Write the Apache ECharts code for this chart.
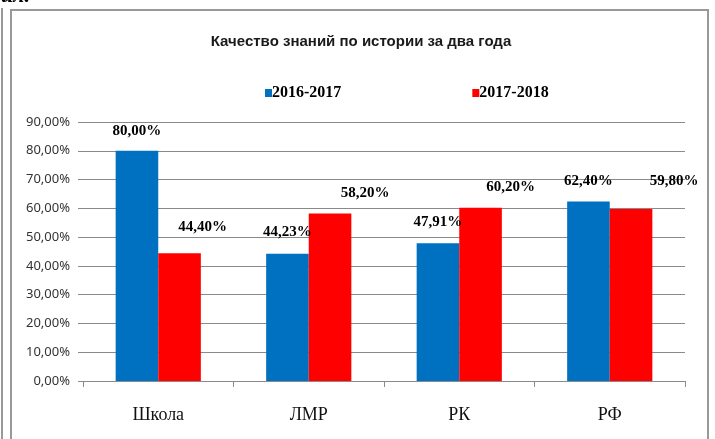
<!DOCTYPE html>
<html lang="ru">
<head>
    <meta charset="UTF-8">
    <title>Качество знаний по истории</title>
    <script src="https://cdn.jsdelivr.net/npm/echarts@6/dist/echarts.min.js"></script>
    <style>
        html, body { margin: 0; padding: 0; background: #fff; }
        #chart { width: 715px; height: 439px; }
    </style>
</head>
<body>
<div id="chart"></div>
<script type="text/javascript">
    // данные
    var categories = ['Школа', 'ЛМР', 'РК', 'РФ'];
    var seriesNames = ['2016-2017', '2017-2018'];
    var values2016 = [80.00, 44.23, 47.91, 62.40];
    var values2017 = [44.40, 58.20, 60.20, 59.80];
    var yTicks = [0, 10, 20, 30, 40, 50, 60, 70, 80, 90];

    // смещения подписей (как в исходной диаграмме Excel)
    var offsets2016 = [[0, -7], [0, -9], [0, -9], [0, -8]];
    var offsets2017 = [[23, -14], [35, -8], [30, -8], [43, -15]];

    function pct(v) {
        return v.toFixed(2).replace('.', ',') + '%';
    }

    function buildData(values, offsets) {
        return values.map(function (v, i) {
            return { value: v, label: { offset: offsets[i] } };
        });
    }

    var chart = echarts.init(document.getElementById('chart'));
    var labelStyle = {
        show: true,
        position: 'top',
        distance: 5,
        fontFamily: "'Liberation Serif', 'DejaVu Serif', serif",
        fontWeight: 'bold',
        fontSize: 15,
        color: '#000',
        formatter: function (p) { return pct(p.value); }
    };

    var option = {
        animation: false,
        backgroundColor: '#fff',
        graphic: [
            { type: 'text', left: 1, top: -15,
              style: { text: 'ил.', fontSize: 22, fontStyle: 'italic', fontWeight: 'bold',
                       fontFamily: "'Liberation Serif', serif", fill: '#000' } },
            { type: 'line', shape: { x1: 2, y1: 8, x2: 2, y2: 439 },
              style: { stroke: '#999', lineWidth: 2 } },
            { type: 'polyline', shape: { points: [[11, 439], [11, 10], [708, 10], [708, 439]] },
              style: { stroke: '#999', lineWidth: 2, fill: null } },
            { type: 'text', x: 361, y: 42,
              style: { text: 'Качество знаний по истории за два года', textAlign: 'center',
                       textVerticalAlign: 'middle', fontSize: 15, fontWeight: 'bold',
                       fontFamily: "'Liberation Sans', sans-serif",
                       fill: '#1a1a1a' } }
        ],
        legend: {
            left: 260,
            top: 80,
            data: seriesNames,
            icon: 'rect',
            itemWidth: 7,
            itemHeight: 8,
            itemGap: 131,
            textStyle: {
                fontFamily: "'Liberation Serif', serif",
                fontWeight: 'bold',
                fontSize: 16,
                color: '#000',
                padding: [0, 0, 0, -5]
            }
        },
        grid: { left: 83, right: 30, top: 122, bottom: 58, containLabel: false },
        xAxis: {
            type: 'category',
            data: categories,
            axisLine: { show: true, lineStyle: { color: '#8a8a8a', width: 1 } },
            axisTick: { show: true, length: 6, alignWithLabel: false, lineStyle: { color: '#8a8a8a' } },
            axisLabel: {
                margin: 25,
                fontFamily: "'Liberation Serif', serif",
                fontSize: 18,
                color: '#111'
            }
        },
        yAxis: {
            type: 'value',
            min: yTicks[0],
            max: yTicks[yTicks.length - 1],
            interval: 10,
            axisLine: { show: false },
            axisTick: { show: true, length: 5, lineStyle: { color: '#8a8a8a' } },
            splitLine: { show: true, lineStyle: { color: '#8a8a8a', width: 1 } },
            axisLabel: {
                margin: 13,
                fontFamily: "'Noto Sans', sans-serif",
                fontSize: 13,
                color: '#333',
                formatter: function (v) { return pct(v); }
            }
        },
        series: [
            {
                name: seriesNames[0],
                type: 'bar',
                barWidth: '28.3%',
                barGap: '0%',
                itemStyle: { color: '#0070c0' },
                label: labelStyle,
                data: buildData(values2016, offsets2016)
            },
            {
                name: seriesNames[1],
                type: 'bar',
                barWidth: '28.3%',
                barGap: '0%',
                itemStyle: { color: '#ff0000' },
                label: labelStyle,
                data: buildData(values2017, offsets2017)
            }
        ]
    };
    chart.setOption(option);
</script>
</body>
</html>
